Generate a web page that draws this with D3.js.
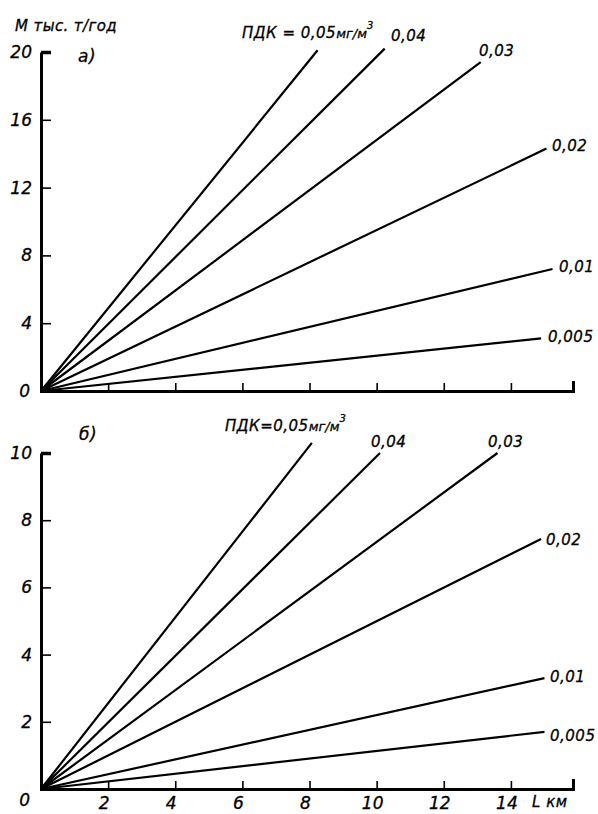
<!DOCTYPE html>
<html><head><meta charset="utf-8">
<script src="https://cdn.jsdelivr.net/npm/d3@7/dist/d3.min.js"></script>
<style>
html,body{margin:0;padding:0;background:#fff;}
svg text{font-family:"DejaVu Sans",sans-serif;font-style:italic;fill:#000;stroke:#000;stroke-width:0.3px;}
</style></head>
<body><svg id="c" width="598" height="814"></svg>
<script>
// ---- data ----
const kmTicks = [2, 4, 6, 8, 10, 12, 14];
const kmLabels = [0, 2, 4, 6, 8, 10, 12, 14];
const topMTicks = [0, 4, 8, 12, 16, 20];
const botMTicks = [0, 2, 4, 6, 8, 10];
const pdkLabels = ["0,05", "0,04", "0,03", "0,02", "0,01", "0,005"];
const topEndL = [8.24, 10.24, 13.1, 15.06, 15.24, 14.9];
const topEndM = [20.1, 20.2, 19.4, 14.3, 7.2, 3.1];
const botEndL = [8.07, 10.1, 13.6, 14.9, 15.0, 15.0];
const botEndM = [10.3, 10.0, 10.0, 7.44, 3.3, 1.7];

const svg = d3.select("#c");
const x = d3.scaleLinear().domain([0, 15.85]).range([41, 573]);
const yTop = d3.scaleLinear().domain([0, 20]).range([391, 52]);
const yBot = d3.scaleLinear().domain([0, 10]).range([789, 453]);

function panel(y, mTicks, endL, endM, zeroDy, showXLabels) {
  const g = svg.append("g");
  const ya = g.append("g").attr("transform", `translate(${x(0)},0)`)
    .call(d3.axisLeft(y).tickValues(mTicks.filter(d => d > 0)).tickSize(-10).tickSizeOuter(0).tickPadding(9).tickFormat(d3.format("d")));
  ya.select(".domain").attr("stroke-width", 3);
  ya.selectAll(".tick line").attr("stroke-width", 1.6);
  ya.selectAll(".tick line").filter(d => d === d3.max(mTicks)).attr("stroke-width", 3.5);
  ya.selectAll(".tick text").attr("font-size", 17).attr("font-family", "DejaVu Sans").attr("font-style", "italic").attr("fill", "#000");
  g.append("text").attr("x", x(0) - 11).attr("y", y(0) + zeroDy).attr("text-anchor", "end").attr("font-size", 17).text("0");
  const xa = g.append("g").attr("transform", `translate(0,${y(0)})`)
    .call(d3.axisBottom(x).tickValues(kmTicks).tickSize(-8).tickSizeOuter(-10).tickFormat(""));
  xa.select(".domain").attr("stroke-width", 3);
  xa.selectAll(".tick line").attr("stroke-width", 1.6);
  if (showXLabels) {
    g.selectAll(".xl").data(kmLabels.filter(d => d > 0)).enter().append("text")
      .attr("x", d => x(d) - 4).attr("y", y(0) + 20).attr("text-anchor", "middle")
      .attr("font-size", 17).text(d => d);
  }
  const line = d3.line().x(d => x(d[0])).y(d => y(d[1]));
  endL.forEach((L, i) => {
    g.append("path").attr("d", line([[0, 0], [L, endM[i]]]))
      .attr("fill", "none").attr("stroke", "#000").attr("stroke-width", 2.2);
  });
  return g;
}

const gt = panel(yTop, topMTicks, topEndL, topEndM, 6, false);
const gb = panel(yBot, botMTicks, botEndL, botEndM, 17, true);

const fs = 15, ls = "0.5px";
function lab(g, tx, ty, txt, anchor) {
  return g.append("text").attr("x", tx).attr("y", ty).attr("font-size", fs)
    .attr("letter-spacing", ls).attr("text-anchor", anchor || "start").text(txt);
}
function pdkMain(g, tx, ty, sep) {
  const t = g.append("text").attr("x", tx).attr("y", ty).attr("font-size", fs).attr("letter-spacing", ls);
  t.append("tspan").text("ПДК" + sep + pdkLabels[0]);
  t.append("tspan").attr("font-size", 13).attr("letter-spacing", "0px").text("мг/м");
  t.append("tspan").attr("font-size", 10).attr("dy", -9).text("3");
}

// top panel texts
lab(gt, 15, 31, "М тыс. т/год").attr("font-size", 15).attr("letter-spacing", "0.4px");
lab(gt, 78, 62, "а)").attr("font-size", 17);
pdkMain(gt, 242, 38, " = ");
lab(gt, 391, 41, pdkLabels[1]);
lab(gt, 479, 56, pdkLabels[2]);
lab(gt, 552, 151, pdkLabels[3]);
lab(gt, 559, 272, pdkLabels[4]);
lab(gt, 548, 342, pdkLabels[5]);

// bottom panel texts
lab(gb, 79, 440, "б)").attr("font-size", 17);
pdkMain(gb, 225, 431, "=");
lab(gb, 371, 447, pdkLabels[1]);
lab(gb, 488, 447, pdkLabels[2]);
lab(gb, 546, 545, pdkLabels[3]);
lab(gb, 550, 682, pdkLabels[4]);
lab(gb, 550, 741, pdkLabels[5]);
lab(gb, 532, 807, "L км").attr("font-size", 15);
</script></body></html>
